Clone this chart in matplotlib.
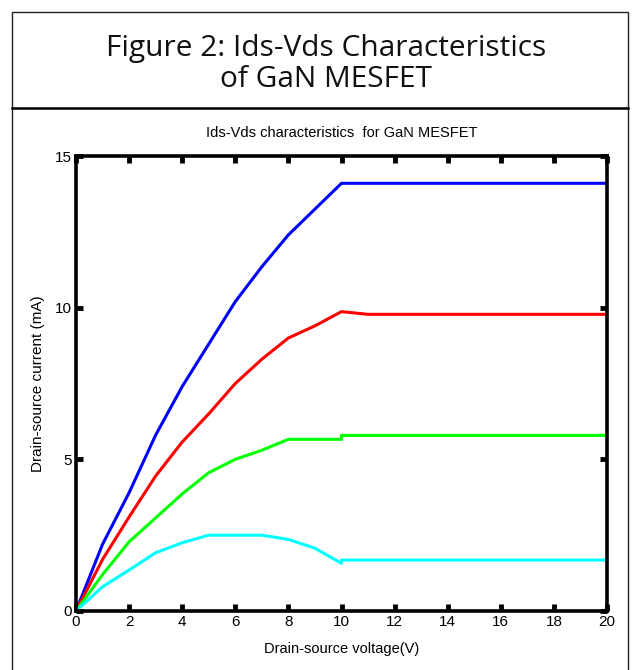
import matplotlib.pyplot as plt
from matplotlib.lines import Line2D
from matplotlib.patches import Rectangle

# Datos (Vds en V, Ids en mA)
vds_blue = [0, 1, 2, 3, 4, 5, 6, 7, 8, 9, 10, 20]
ids_blue = [0, 2.2, 3.9, 5.8, 7.4, 8.8, 10.2, 11.35, 12.4, 13.25, 14.1, 14.1]

vds_red = [0, 1, 2, 3, 4, 5, 6, 7, 8, 9, 10, 11, 20]
ids_red = [0, 1.7, 3.1, 4.45, 5.57, 6.5, 7.5, 8.3, 9.0, 9.4, 9.87, 9.78, 9.78]

vds_green = [0, 1, 2, 3, 4, 5, 6, 7, 8, 9, 10, 10, 20]
ids_green = [0, 1.2, 2.28, 3.07, 3.86, 4.56, 5.0, 5.3, 5.66, 5.66, 5.66, 5.79, 5.79]

vds_cyan = [0, 1, 2, 3, 4, 5, 6, 7, 8, 9, 10, 10, 20]
ids_cyan = [0, 0.8, 1.35, 1.92, 2.25, 2.5, 2.5, 2.5, 2.36, 2.07, 1.57, 1.68, 1.68]

xticks = [0, 2, 4, 6, 8, 10, 12, 14, 16, 18, 20]
yticks = [0, 5, 10, 15]

plt.rcParams['font.family'] = ['Liberation Sans', 'DejaVu Sans']

fig = plt.figure(figsize=(6.32, 6.70), dpi=100)

# Marco exterior y linea bajo el titulo
fig.add_artist(Rectangle((12 / 632, -0.01), 616 / 632, 1 - 12 / 670 + 0.01,
                         transform=fig.transFigure, fill=False,
                         edgecolor='#222222', linewidth=1.0))
fig.add_artist(Line2D([12 / 632, 628 / 632], [1 - 108 / 670, 1 - 108 / 670],
                      transform=fig.transFigure, color='black', linewidth=1.8))

fig.text(326 / 632, 1 - 64 / 670, 'Figure 2: Ids-Vds Characteristics\nof GaN MESFET',
         ha='center', va='center', fontsize=21.5, family='Open Sans',
         linespacing=1.12, color='#111111')

ax = fig.add_axes([76 / 632, 59 / 670, 531 / 632, 455 / 670])

ax.plot(vds_blue, ids_blue, color='#0000ff', linewidth=2.2)
ax.plot(vds_red, ids_red, color='#ff0000', linewidth=2.2)
ax.plot(vds_green, ids_green, color='#00ff00', linewidth=2.2)
ax.plot(vds_cyan, ids_cyan, color='#00ffff', linewidth=2.2)

ax.set_xlim(0, 20)
ax.set_ylim(0, 15)
ax.set_xticks(xticks)
ax.set_yticks(yticks)
ax.tick_params(direction='in', length=5, width=3.5, top=True, right=True,
               labelsize=11, pad=3)
for s in ax.spines.values():
    s.set_linewidth(2.6)

ax.set_title('Ids-Vds characteristics  for GaN MESFET', fontsize=10.5, pad=14)
ax.set_xlabel('Drain-source voltage(V)', fontsize=10.5, labelpad=9)
ax.set_ylabel('Drain-source current (mA)', fontsize=11, labelpad=7)

fig.savefig('out.png', dpi=100)
